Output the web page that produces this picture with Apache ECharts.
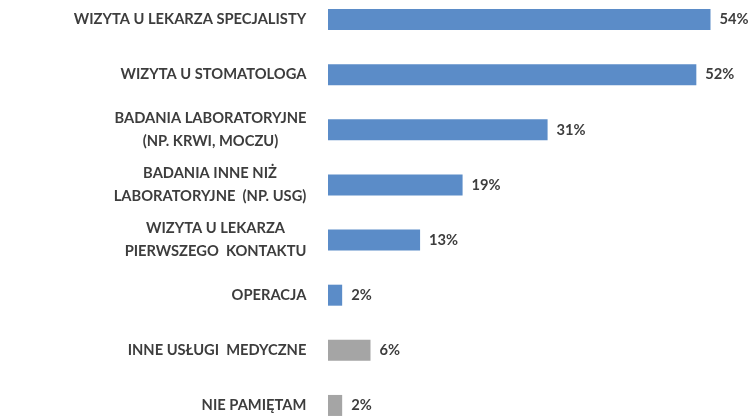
<!DOCTYPE html>
<html>
<head>
<meta charset="utf-8">
<script src="https://cdn.jsdelivr.net/npm/echarts@6/dist/echarts.min.js"></script>
<style>
html,body{margin:0;padding:0;background:#fff;}
#chart{width:752px;height:416px;}
</style>
</head>
<body>
<div id="chart"></div>
<script>
var categories = [
  "WIZYTA U LEKARZA SPECJALISTY",
  "WIZYTA U STOMATOLOGA",
  "BADANIA LABORATORYJNE\n(NP. KRWI, MOCZU)",
  "BADANIA INNE NIŻ\nLABORATORYJNE  (NP. USG)",
  "WIZYTA U LEKARZA\nPIERWSZEGO  KONTAKTU",
  "OPERACJA",
  "INNE USŁUGI  MEDYCZNE",
  "NIE PAMIĘTAM"
];
var values = [54, 52, 31, 19, 13, 2, 6, 2];
var otherGroup = [false, false, false, false, false, false, true, true];

var FS = 14.7;
var canvas = document.createElement('canvas');
var ctx = canvas.getContext('2d');
ctx.font = 'bold ' + FS + 'px Lato';
var rich = {};
categories.forEach(function (c, i) {
  var w = 0;
  c.split('\n').forEach(function (l) { w = Math.max(w, ctx.measureText(l).width); });
  rich['c' + i] = { width: Math.ceil(w) + 1, align: 'center', lineHeight: 23,
    fontFamily: 'Lato', fontWeight: 'bold', fontSize: FS, color: '#3d3d3d' };
});

var chart = echarts.init(document.getElementById('chart'));
chart.setOption({
  animation: false,
  backgroundColor: '#fff',
  grid: { left: 328, top: -8, width: 425, height: 441, containLabel: false, outerBoundsMode: 'none' },
  xAxis: { type: 'value', min: 0, max: 60, show: false },
  yAxis: {
    type: 'category', data: categories, inverse: true,
    axisLine: { show: false }, axisTick: { show: false },
    axisLabel: {
      margin: 21, align: 'right',
      formatter: function (v, i) {
        return v.split('\n').map(function (l) { return '{c' + i + '|' + l + '}'; }).join('\n');
      },
      rich: rich
    }
  },
  series: [{
    type: 'bar', data: values, barWidth: 21,
    itemStyle: {
      color: function (p) { return otherGroup[p.dataIndex] ? '#A5A5A5' : '#5B8CC8'; }
    },
    label: {
      show: true, position: 'right', distance: 9,
      formatter: '{c}%', fontFamily: 'Lato', fontWeight: 'bold', fontSize: FS, color: '#3d3d3d'
    }
  }]
});
</script>
</body>
</html>
